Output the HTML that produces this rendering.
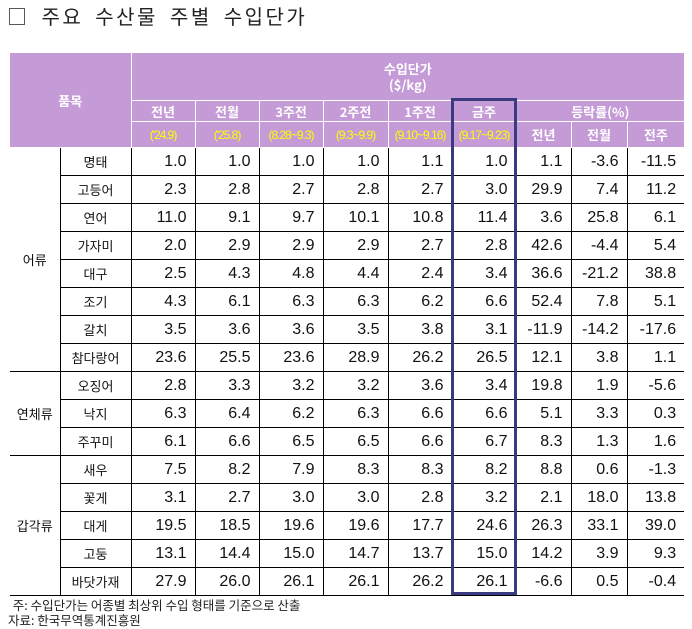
<!DOCTYPE html>
<html><head><meta charset="utf-8"><style>
body{margin:0;width:692px;height:628px;background:#fff;position:relative;font-family:"Liberation Sans","Noto Sans CJK KR",sans-serif;overflow:hidden}
.title{position:absolute;left:7px;top:1px;font-size:20px;color:#222;letter-spacing:2.5px;word-spacing:5px;font-family:"Noto Sans CJK KR","NanumGothic",sans-serif}
table{position:absolute;left:10px;top:52px;border-collapse:collapse;table-layout:fixed;width:674px}
td{padding:0;overflow:hidden;white-space:nowrap}
.h td{background:#c49bd6;color:#fff;font-weight:bold;font-size:13px;text-align:center;border:1px solid #fff;font-family:"Noto Sans CJK KR",sans-serif}
.h td.y{color:#ffff00;font-size:12px;font-weight:normal;letter-spacing:-1px;font-family:"Liberation Sans Narrow","Liberation Sans",sans-serif}
.b td{height:27px;border:1px solid #000;font-size:16px;text-align:right;padding-right:8px;color:#111}
.b td.n{text-align:center;padding:0;font-size:13px;font-family:"Noto Sans CJK KR",sans-serif}
.b td.g{text-align:center;padding:0;font-size:13px;border-left:none;font-family:"Noto Sans CJK KR",sans-serif}
.b td:last-child{border-right:none}
.box{position:absolute;left:451px;top:98px;width:60px;height:491px;border:3px solid #3a3a80}
.note{position:absolute;left:10px;font-size:12.5px;color:#222;font-family:"Noto Sans CJK KR",sans-serif}
</style></head><body>
<div class="title">□ 주요 수산물 주별 수입단가</div>
<table>
<colgroup><col style="width:50px"><col style="width:71px"><col style="width:64px"><col style="width:64px"><col style="width:64px"><col style="width:65px"><col style="width:64px"><col style="width:64px"><col style="width:55px"><col style="width:56px"><col style="width:57px"></colgroup>
<tr class="h" style="height:48px"><td colspan="2" rowspan="3" style="border-left:none">품목</td><td colspan="9" style="border-right:none;line-height:16px">수입단가<br>($/kg)</td></tr>
<tr class="h" style="height:21px"><td>전년</td><td>전월</td><td>3주전</td><td>2주전</td><td>1주전</td><td>금주</td><td colspan="3" style="border-right:none">등락률(%)</td></tr>
<tr class="h" style="height:26px"><td class="y">('24.9)</td><td class="y">('25.8)</td><td class="y">(8.28~9.3)</td><td class="y">(9.3~9.9)</td><td class="y">(9.10~9.16)</td><td class="y">(9.17~9.23)</td><td>전년</td><td>전월</td><td style="border-right:none">전주</td></tr>
<tr class="b"><td class="g" rowspan="8">어류</td><td class="n">명태</td><td>1.0</td><td>1.0</td><td>1.0</td><td>1.0</td><td>1.1</td><td>1.0</td><td>1.1</td><td>-3.6</td><td>-11.5</td></tr>
<tr class="b"><td class="n">고등어</td><td>2.3</td><td>2.8</td><td>2.7</td><td>2.8</td><td>2.7</td><td>3.0</td><td>29.9</td><td>7.4</td><td>11.2</td></tr>
<tr class="b"><td class="n">연어</td><td>11.0</td><td>9.1</td><td>9.7</td><td>10.1</td><td>10.8</td><td>11.4</td><td>3.6</td><td>25.8</td><td>6.1</td></tr>
<tr class="b"><td class="n">가자미</td><td>2.0</td><td>2.9</td><td>2.9</td><td>2.9</td><td>2.7</td><td>2.8</td><td>42.6</td><td>-4.4</td><td>5.4</td></tr>
<tr class="b"><td class="n">대구</td><td>2.5</td><td>4.3</td><td>4.8</td><td>4.4</td><td>2.4</td><td>3.4</td><td>36.6</td><td>-21.2</td><td>38.8</td></tr>
<tr class="b"><td class="n">조기</td><td>4.3</td><td>6.1</td><td>6.3</td><td>6.3</td><td>6.2</td><td>6.6</td><td>52.4</td><td>7.8</td><td>5.1</td></tr>
<tr class="b"><td class="n">갈치</td><td>3.5</td><td>3.6</td><td>3.6</td><td>3.5</td><td>3.8</td><td>3.1</td><td>-11.9</td><td>-14.2</td><td>-17.6</td></tr>
<tr class="b"><td class="n">참다랑어</td><td>23.6</td><td>25.5</td><td>23.6</td><td>28.9</td><td>26.2</td><td>26.5</td><td>12.1</td><td>3.8</td><td>1.1</td></tr>
<tr class="b"><td class="g" rowspan="3">연체류</td><td class="n">오징어</td><td>2.8</td><td>3.3</td><td>3.2</td><td>3.2</td><td>3.6</td><td>3.4</td><td>19.8</td><td>1.9</td><td>-5.6</td></tr>
<tr class="b"><td class="n">낙지</td><td>6.3</td><td>6.4</td><td>6.2</td><td>6.3</td><td>6.6</td><td>6.6</td><td>5.1</td><td>3.3</td><td>0.3</td></tr>
<tr class="b"><td class="n">주꾸미</td><td>6.1</td><td>6.6</td><td>6.5</td><td>6.5</td><td>6.6</td><td>6.7</td><td>8.3</td><td>1.3</td><td>1.6</td></tr>
<tr class="b"><td class="g" rowspan="5">갑각류</td><td class="n">새우</td><td>7.5</td><td>8.2</td><td>7.9</td><td>8.3</td><td>8.3</td><td>8.2</td><td>8.8</td><td>0.6</td><td>-1.3</td></tr>
<tr class="b"><td class="n">꽃게</td><td>3.1</td><td>2.7</td><td>3.0</td><td>3.0</td><td>2.8</td><td>3.2</td><td>2.1</td><td>18.0</td><td>13.8</td></tr>
<tr class="b"><td class="n">대게</td><td>19.5</td><td>18.5</td><td>19.6</td><td>19.6</td><td>17.7</td><td>24.6</td><td>26.3</td><td>33.1</td><td>39.0</td></tr>
<tr class="b"><td class="n">고둥</td><td>13.1</td><td>14.4</td><td>15.0</td><td>14.7</td><td>13.7</td><td>15.0</td><td>14.2</td><td>3.9</td><td>9.3</td></tr>
<tr class="b"><td class="n">바닷가재</td><td>27.9</td><td>26.0</td><td>26.1</td><td>26.1</td><td>26.2</td><td>26.1</td><td>-6.6</td><td>0.5</td><td>-0.4</td></tr>
</table>
<div class="box"></div>
<div class="note" style="top:595px">&nbsp;주: 수입단가는 어종별 최상위 수입 형태를 기준으로 산출</div>
<div class="note" style="top:610px;left:8px">자료: 한국무역통계진흥원</div>
</body></html>
